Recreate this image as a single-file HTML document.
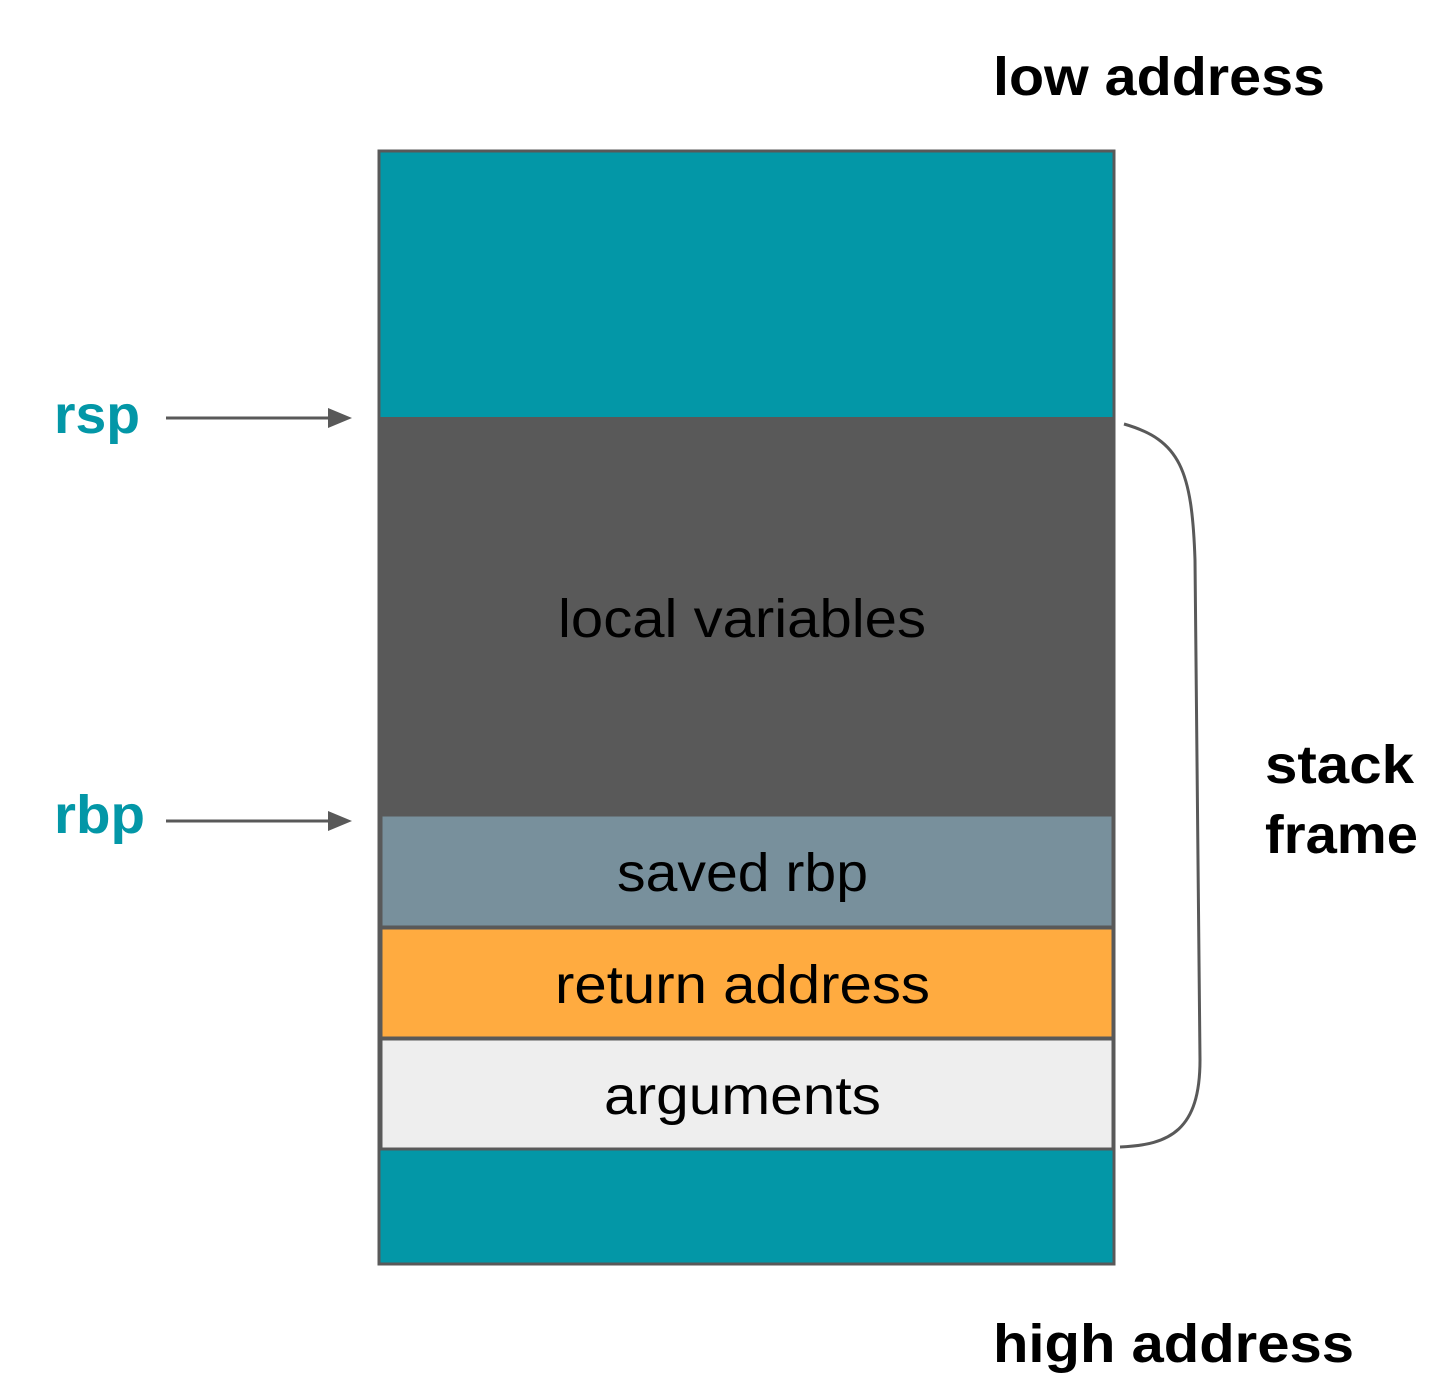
<!DOCTYPE html>
<html><head><style>
body{margin:0;background:#fff;}
svg{display:block}
</style></head><body>
<svg width="1449" height="1399" xmlns="http://www.w3.org/2000/svg" font-family="Liberation Sans, Arial, sans-serif">
<rect x="0" y="0" width="1449" height="1399" fill="#fff"/>
<rect x="379" y="151" width="735" height="1113" fill="#0397A7" stroke="#595959" stroke-width="3"/>
<rect x="379" y="417" width="735" height="398" fill="#595959"/>
<rect x="381" y="815" width="732" height="112" fill="#78909C" stroke="#595959" stroke-width="3"/>
<rect x="381" y="928" width="732" height="110" fill="#FFAB40" stroke="#595959" stroke-width="3"/>
<rect x="381" y="1039" width="732" height="110" fill="#EEEEEE" stroke="#595959" stroke-width="3"/>
<rect x="379" y="151" width="735" height="1113" fill="none" stroke="#595959" stroke-width="3"/>
<g font-size="54" fill="#000" lengthAdjust="spacingAndGlyphs">
<text x="558" y="637" textLength="368" lengthAdjust="spacingAndGlyphs">local variables</text>
<text x="617" y="891" textLength="251" lengthAdjust="spacingAndGlyphs">saved rbp</text>
<text x="555" y="1003" textLength="375" lengthAdjust="spacingAndGlyphs">return address</text>
<text x="604" y="1114" textLength="277" lengthAdjust="spacingAndGlyphs">arguments</text>
</g>
<g font-size="54" font-weight="bold" fill="#000">
<text x="993" y="95" textLength="332" lengthAdjust="spacingAndGlyphs">low address</text>
<text x="993" y="1362" textLength="361" lengthAdjust="spacingAndGlyphs">high address</text>
<text x="1265" y="783" textLength="149" lengthAdjust="spacingAndGlyphs">stack</text>
<text x="1265" y="853" textLength="153" lengthAdjust="spacingAndGlyphs">frame</text>
</g>
<g font-size="54" font-weight="bold" fill="#0397A7">
<text x="54" y="433" textLength="86" lengthAdjust="spacingAndGlyphs">rsp</text>
<text x="54" y="833" textLength="91" lengthAdjust="spacingAndGlyphs">rbp</text>
</g>
<g stroke="#595959" stroke-width="3">
<line x1="166" y1="418" x2="330" y2="418"/>
<line x1="166" y1="821" x2="330" y2="821"/>
</g>
<polygon points="352,418 328,408 328,428" fill="#595959"/>
<polygon points="352,821 328,811 328,831" fill="#595959"/>
<path d="M1124,424 C1180,440 1192,470 1195,560 L1200,1060 C1200,1130 1170,1145 1120,1147" fill="none" stroke="#595959" stroke-width="3"/>
</svg>
</body></html>
